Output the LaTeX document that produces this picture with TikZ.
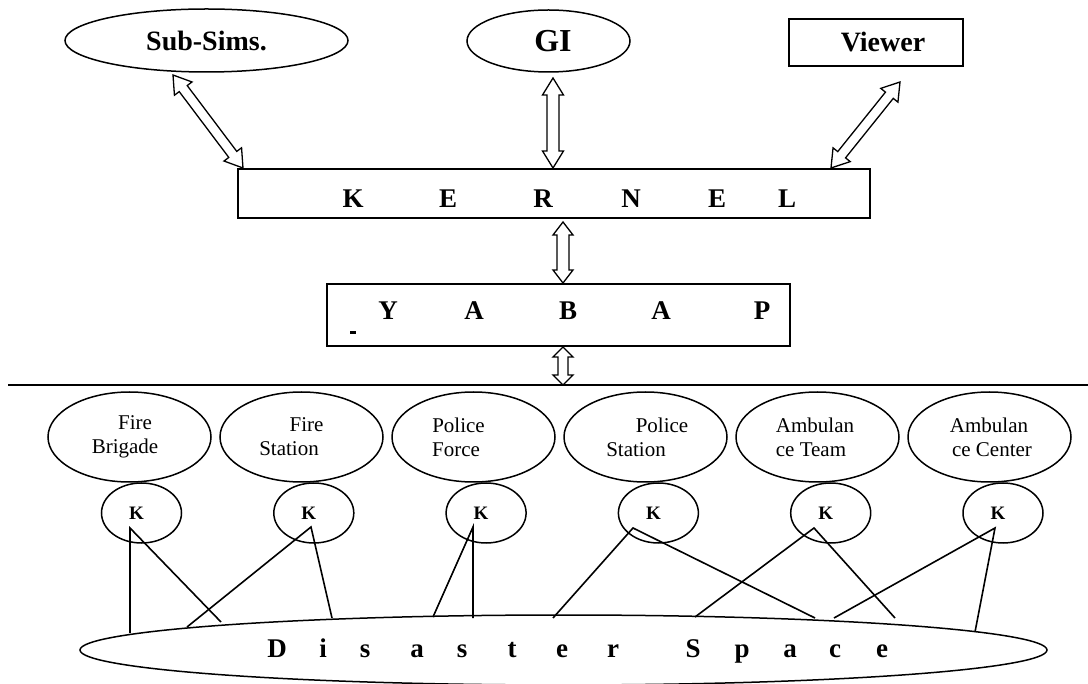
\documentclass[tikz,border=0pt]{standalone}
\usepackage{fontspec}
\setmainfont{Liberation Serif}
\usetikzlibrary{shapes.geometric,calc}
\newcommand\lineat[2]{\makebox[0pt][c]{\hspace{#1}#2}}
\newcommand\hollowarrow[5]{%
  \path ($(#1)!#5!(#2)$) coordinate (#1#2P)
        ($(#2)!#5!(#1)$) coordinate (#1#2Q);
  \draw[harrow] (#1)
    -- ($(#1#2P)!#4!90:(#2)$) -- ($(#1#2P)!#3!90:(#2)$)
    -- ($(#1#2Q)!#3!-90:(#1)$) -- ($(#1#2Q)!#4!-90:(#1)$)
    -- (#2)
    -- ($(#1#2Q)!#4!90:(#1)$) -- ($(#1#2Q)!#3!90:(#1)$)
    -- ($(#1#2P)!#3!-90:(#2)$) -- ($(#1#2P)!#4!-90:(#2)$)
    -- cycle;}
\begin{document}
\begin{tikzpicture}[x=1pt,y=-1pt,
  harrow/.style={draw, line width=1.3pt, line join=miter, fill=white},
  ell/.style={draw, ellipse, line width=1.5pt, inner sep=0pt},
  boxn/.style={draw, rectangle, line width=1.6pt, inner sep=0pt},
  agent/.style={ell, minimum width=163pt, minimum height=90pt, align=center,
    font=\fontsize{21}{24}\selectfont},
  kc/.style={ell, minimum width=80pt, minimum height=60pt,
    font=\bfseries\fontsize{19}{20}\selectfont},
  bigb/.style={font=\bfseries\fontsize{27}{30}\selectfont, inner sep=0pt, anchor=base west},
  link/.style={line width=1.6pt}]
\useasboundingbox (0,0) rectangle (1088,684);

% top row
\node[ell, minimum width=283pt, minimum height=63pt,
  font=\bfseries\fontsize{28}{30}\selectfont] (subsims) at (206.5,40.5) {Sub-Sims.};
\node[ell, minimum width=163pt, minimum height=62pt,
  font=\bfseries\fontsize{32}{34}\selectfont] (gi) at (548.5,41) {\hspace*{9pt}GI};
\node[boxn, minimum width=174pt, minimum height=47pt,
  font=\bfseries\fontsize{28}{30}\selectfont] (viewer) at (876,42.5) {\hspace*{14pt}Viewer};

% kernel and yabap
\node[boxn, minimum width=632pt, minimum height=49pt] (kernel) at (554,193.5) {};
\node[bigb] (kerneltext) at (342.5,208)
  {K\hspace{75.5pt}E\hspace{76.25pt}R\hspace{68.5pt}N\hspace{67.25pt}E\hspace{52pt}L};
\node[boxn, minimum width=463pt, minimum height=62pt] (yabap) at (558.5,315) {};
\node[bigb] (yabaptext) at (378.25,320)
  {Y\hspace{66.5pt}A\hspace{75.25pt}B\hspace{74.25pt}A\hspace{83pt}P};
\fill (350,331.5) rectangle (356,334.5);

% hollow double arrows
\coordinate (ssA) at (173,75);  \coordinate (ssB) at (243,168);
\coordinate (giA) at (553,78);  \coordinate (giB) at (553,168);
\coordinate (vwA) at (900,82);  \coordinate (vwB) at (831,168);
\coordinate (kyA) at (563,222); \coordinate (kyB) at (563,283);
\coordinate (ylA) at (563,347); \coordinate (ylB) at (563,385);
\hollowarrow{ssA}{ssB}{5pt}{11pt}{17pt}
\hollowarrow{giA}{giB}{6pt}{10.5pt}{17pt}
\hollowarrow{vwA}{vwB}{5pt}{11pt}{17pt}
\hollowarrow{kyA}{kyB}{6pt}{10pt}{13pt}
\hollowarrow{ylA}{ylB}{5pt}{10pt}{10pt}

% separator line
\coordinate (hlL) at (8,385); \coordinate (hlR) at (1088,385);
\draw[line width=1.6pt] (hlL) -- (hlR);

% agents
\node[agent] (fb) at (129.5,437) {\lineat{11pt}{Fire}\\\lineat{-9pt}{Brigade}};
\node[agent] (fs) at (301.5,437) {\lineat{10pt}{Fire}\\\lineat{-25pt}{Station}};
\node[agent] (pf) at (473.5,437) {\lineat{-30pt}{Police}\\\lineat{-35pt}{Force}};
\node[agent] (ps) at (645.5,437) {\lineat{33pt}{Police}\\\lineat{-19pt}{Station}};
\node[agent] (at) at (817.5,437) {\lineat{-5pt}{Ambulan}\\\lineat{-13pt}{ce Team}};
\node[agent] (ac) at (989.5,437) {\lineat{-1pt}{Ambulan}\\\lineat{5pt}{ce Center}};

% K circles
\node[kc] (kfb) at (141.5,513) {K\hspace*{10pt}};
\node[kc] (kfs) at (313.8,513) {K\hspace*{10pt}};
\node[kc] (kpf) at (486.1,513) {K\hspace*{10pt}};
\node[kc] (kps) at (658.4,513) {K\hspace*{10pt}};
\node[kc] (kat) at (830.7,513) {K\hspace*{10pt}};
\node[kc] (kac) at (1003,513) {K\hspace*{10pt}};

% disaster space
\node[ell, minimum width=967pt, minimum height=70pt] (ds) at (563.5,650) {};
\node[bigb] (dstext) at (267.25,657)
  {D\hspace{32.5pt}i\hspace{33pt}s\hspace{40pt}a\hspace{33pt}s\hspace{40.25pt}t\hspace{39.5pt}e\hspace{39pt}r\hspace{66.5pt}S\hspace{34pt}p\hspace{33.75pt}a\hspace{32.25pt}c\hspace{35pt}e};

% link points
\coordinate (afb) at (130,528); \coordinate (efb1) at (130,633); \coordinate (efb2) at (221,622);
\coordinate (afs) at (311,527); \coordinate (efs1) at (187,627); \coordinate (efs2) at (332,618);
\coordinate (apf) at (473,527); \coordinate (epf1) at (433,617); \coordinate (epf2) at (473,618);
\coordinate (aps) at (633,528); \coordinate (eps1) at (553,618); \coordinate (eps2) at (815,618);
\coordinate (aat) at (814,528); \coordinate (eat1) at (695,617); \coordinate (eat2) at (895,618);
\coordinate (aac) at (995,528); \coordinate (eac1) at (834,618); \coordinate (eac2) at (975,632);
\draw[link] (efb1) -- (afb) -- (efb2);
\draw[link] (efs1) -- (afs) -- (efs2);
\draw[link] (epf1) -- (apf) -- (epf2);
\draw[link] (eps1) -- (aps) -- (eps2);
\draw[link] (eat1) -- (aat) -- (eat2);
\draw[link] (eac1) -- (aac) -- (eac2);
\end{tikzpicture}
\end{document}
